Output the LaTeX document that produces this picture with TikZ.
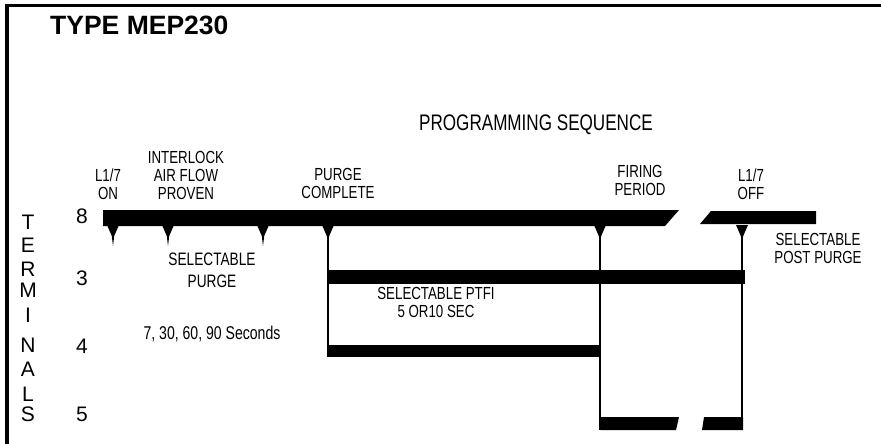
\documentclass[tikz,border=0pt]{standalone}
\usepackage{fontspec}
\setmainfont[FakeStretch=0.76]{Liberation Sans}
\newfontfamily\widefont{Liberation Sans}
\usetikzlibrary{calc}
\definecolor{balken}{RGB}{0,0,0}

\begin{document}
\begin{tikzpicture}[x=1pt, y=-1pt, balken,
	lbl/.style={inner sep=0pt, anchor=south, align=center, font=\fontsize{17.5}{18}\selectfont},
	num/.style={inner sep=0pt, anchor=base, font=\widefont\fontsize{21}{21}\selectfont},
	wire/.style={line width=1.3pt}]

	\useasboundingbox (0,0) rectangle (881,444);

	% frame
	\draw[line width=3.5pt] (7,444) -- (7,5.3) -- (881,5.3);

	\node[anchor=base west, inner sep=0pt, font=\widefont\bfseries\fontsize{26.5}{26.5}\selectfont] (title) at (50,35) {TYPE MEP230};
	\node[anchor=base, inner sep=0pt, font=\fontsize{22.5}{22}\selectfont] (seq) at (536,130) {PROGRAMMING SEQUENCE};

	% terminals
	\foreach \c/\y [count=\i] in {T/229,E/252,R/276,M/297,I/322,N/352,A/376,L/401,S/421}
		\node[num] (term\i) at (28,\y) {\c};
	\foreach \nr/\y in {8/223,3/285,4/353,5/421}
		\node[num] (t\nr) at (82,\y) {\nr};

	% bars
	\fill (103,210) -- (679,210) -- (665,226) -- (103,226) -- cycle;
	\fill (711,211) -- (816,211) -- (816,224) -- (700,224) -- cycle;
	\fill (328,270) rectangle (745,284);
	\fill (328,345) rectangle (601,357);
	\fill (601,417) -- (679,417) -- (676,430) -- (601,430) -- cycle;
	\fill (704,417) -- (743,417) -- (743,430) -- (702,430) -- cycle;

	\foreach \x in {113,168,263,328,600,742}
		\fill (\x-6,225) -- (\x+6,225) -- (\x+1.2,236) -- (\x,246) -- (\x-1.2,236) -- cycle;

	\draw[wire] (328,240) -- (328,357);
	\draw[wire] (600,240) -- (600,430);
	\draw[wire] (742,240) -- (742,430);

	% events
	\node[lbl] (on) at (108,200) {L1/7\\ON};
	\node[lbl] (interlock) at (186,200) {INTERLOCK\\AIR FLOW\\PROVEN};
	\node[lbl] (purgedone) at (338,199) {PURGE\\COMPLETE};
	\node[lbl] (firing) at (640,196) {FIRING\\PERIOD};
	\node[lbl] (off) at (751,200) {L1/7\\OFF};
	\node[lbl] (postpurge) at (818,264) {SELECTABLE\\POST PURGE};
	\node[lbl, font=\fontsize{18}{22}\selectfont] (selpurge) at (212,288) {SELECTABLE\\PURGE};
	\node[anchor=base, inner sep=0pt, font=\fontsize{18.5}{18}\selectfont] (seconds) at (212,339) {7, 30, 60, 90 Seconds};
	\node[lbl] (ptfi) at (436,318) {SELECTABLE PTFI\\5 OR10 SEC};

\end{tikzpicture}
\end{document}
